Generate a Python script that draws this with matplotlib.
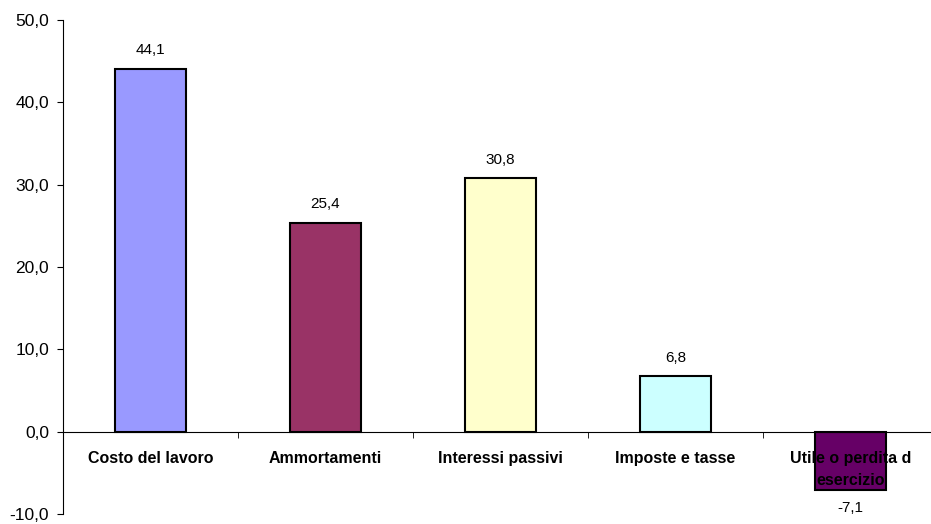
import matplotlib.pyplot as plt
import numpy as np

plt.rcParams['font.family'] = ['Liberation Sans', 'DejaVu Sans']

categorie = ["Costo del lavoro", "Ammortamenti", "Interessi passivi",
             "Imposte e tasse", "Utile o perdita d\nesercizio"]
valori = [44.1, 25.4, 30.8, 6.8, -7.1]
colori = ['#9999FF', '#993366', '#FFFFCC', '#CCFFFF', '#660066']

fig = plt.figure(figsize=(9.31, 5.24), dpi=100)
ax = fig.add_axes([63 / 931, 10 / 524, 875 / 931, 494 / 524])

x = np.arange(len(categorie))
ax.bar(x, valori, width=0.41, color=colori, edgecolor='black', linewidth=1.5, zorder=3)

for xi, v in zip(x, valori):
    testo = f"{v:.1f}".replace('.', ',')
    if v >= 0:
        ax.annotate(testo, (xi, v), xytext=(0, 8), textcoords='offset points',
                    ha='center', va='bottom', fontsize=11)
    else:
        ax.annotate(testo, (xi, v), xytext=(0, -8), textcoords='offset points',
                    ha='center', va='top', fontsize=11)

# etichette categorie sopra le barre
for xi, c in zip(x, categorie):
    ax.annotate(c, (xi, 0), xytext=(0, -14), textcoords='offset points',
                ha='center', va='top', fontsize=11.5, fontweight='bold',
                zorder=6, annotation_clip=False, linespacing=1.55)

ax.set_xlim(-0.5, 4.5)
ax.set_ylim(-10, 50)
ax.set_yticks(np.arange(-10, 51, 10))
ax.set_yticklabels([f"{t:.1f}".replace('.', ',') for t in np.arange(-10, 51, 10)], fontsize=12.5)

ax.spines['top'].set_visible(False)
ax.spines['right'].set_visible(False)
ax.spines['bottom'].set_position(('data', 0))
ax.spines['bottom'].set_zorder(4)

ax.set_xticks([])
ax.set_xticks(np.arange(0.5, 4.5, 1), minor=True)
ax.tick_params(axis='x', which='minor', length=4, direction='out')
ax.tick_params(axis='y', length=4, direction='out', pad=6)

fig.savefig('out.png', dpi=100)
